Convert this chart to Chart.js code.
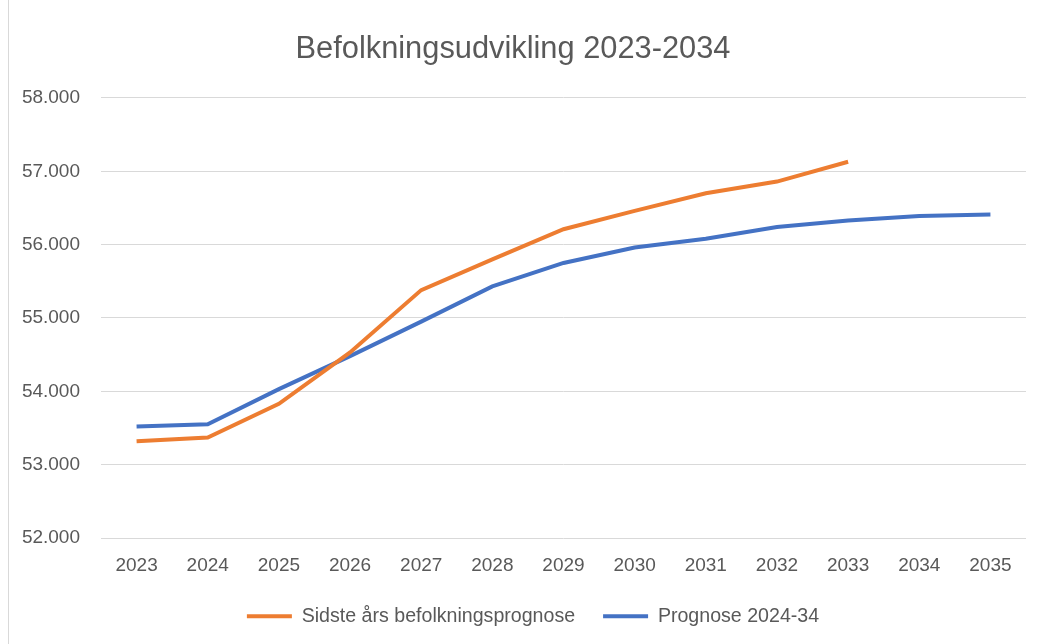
<!DOCTYPE html>
<html lang="da">
<head>
    <meta charset="UTF-8">
    <title>Befolkningsudvikling 2023-2034</title>
    <script src="https://cdn.jsdelivr.net/npm/chart.js"></script>
    <style>
        body {
            margin: 0;
            background-color: #ffffff;
        }

        .frame {
            position: absolute;
            left: 8px;
            top: 0;
            width: 0;
            height: 644px;
            border-left: 1px solid #d9d9d9;
        }

        .chart-container {
            position: relative;
            width: 1038px;
            height: 644px;
        }
    </style>
</head>
<body>
    <div class="chart-container">
        <canvas id="popChart"></canvas>
    </div>
    <div class="frame"></div>

    <script>
        // Data
        const years = ['2023', '2024', '2025', '2026', '2027', '2028', '2029', '2030', '2031', '2032', '2033', '2034', '2035'];
        const lastYearForecast = [53320, 53370, 53830, 54530, 55380, 55800, 56210, 56460, 56700, 56860, 57130, null, null];
        const forecast2024 = [53520, 53550, 54030, 54480, 54950, 55430, 55750, 55960, 56080, 56240, 56330, 56390, 56410];

        const textColor = '#595959';
        const gridColor = '#d9d9d9';

        Chart.defaults.font.family = "'Liberation Sans', Arial, sans-serif";
        Chart.defaults.color = textColor;

        // Danish thousands separator: 58000 -> 58.000
        function formatThousands(value) {
            return String(value).replace(/\B(?=(\d{3})+(?!\d))/g, '.');
        }

        // nudge the legend a bit to the right, like the original
        const legendShift = {
            id: 'legendShift',
            afterLayout(chart) {
                chart.legend.left += 20;
                chart.legend.right += 20;
            },
        };

        const ctx = document.getElementById('popChart').getContext('2d');

        const popChart = new Chart(ctx, {
            type: 'line',
            data: {
                labels: years,
                datasets: [
                    {
                        label: 'Sidste års befolkningsprognose',
                        data: lastYearForecast,
                        borderColor: '#ed7d31',
                        backgroundColor: '#ed7d31',
                        borderWidth: 4,
                        pointStyle: 'line',
                        fill: false,
                    },
                    {
                        label: 'Prognose 2024-34',
                        data: forecast2024,
                        borderColor: '#4472c4',
                        backgroundColor: '#4472c4',
                        borderWidth: 4,
                        pointStyle: 'line',
                        fill: false,
                    },
                ],
            },
            options: {
                responsive: true,
                maintainAspectRatio: false,
                animation: false,
                elements: { point: { radius: 0, hoverRadius: 0 }, line: { tension: 0 } },
                layout: { padding: { left: 0, right: 12, top: 0, bottom: 8 } },
                scales: {
                    x: {
                        offset: true,
                        afterFit: (scale) => { scale.height = 40.4; },
                        grid: { display: false, drawTicks: false },
                        border: { display: false },
                        ticks: { font: { size: 19 }, padding: 16, maxRotation: 0 },
                    },
                    y: {
                        min: 52000,
                        max: 58000,
                        afterFit: (scale) => { scale.width = 101; },
                        grid: { color: gridColor, drawTicks: false },
                        border: { display: false },
                        ticks: {
                            stepSize: 1000,
                            padding: 21,
                            font: { size: 19 },
                            callback: (value) => formatThousands(value),
                        },
                    },
                },
                plugins: {
                    title: {
                        display: true,
                        text: 'Befolkningsudvikling 2023-2034',
                        color: textColor,
                        font: { size: 30.8, weight: 'normal' },
                        padding: { top: 31, bottom: 30 },
                    },
                    legend: {
                        display: true,
                        position: 'bottom',
                        labels: {
                            color: textColor,
                            font: { size: 19.6 },
                            usePointStyle: true,
                            pointStyleWidth: 45,
                            padding: 28,
                        },
                    },
                    tooltip: { enabled: false },
                },
            },
            plugins: [legendShift],
        });
    </script>
</body>
</html>
